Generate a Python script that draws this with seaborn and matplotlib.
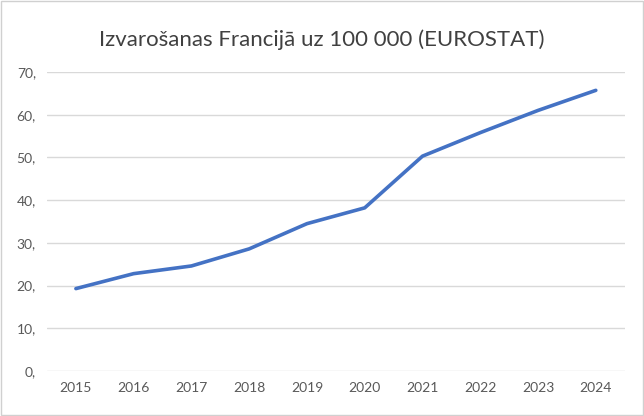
import pandas as pd
import matplotlib.pyplot as plt
import seaborn as sns

# dati
gadi = ['2015', '2016', '2017', '2018', '2019', '2020', '2021', '2022', '2023', '2024']
vertibas = [19.3, 22.8, 24.6, 28.6, 34.5, 38.2, 50.3, 55.8, 61.0, 65.7]
y_ticks = [0, 10, 20, 30, 40, 50, 60, 70]
y_labels = ['0,', '10,', '20,', '30,', '40,', '50,', '60,', '70,']

df = pd.DataFrame({'gads': gadi, 'vertiba': vertibas})

sns.set_style('white')
plt.rcParams['font.family'] = ['Lato', 'DejaVu Sans']

fig = plt.figure(figsize=(6.44, 4.16), dpi=100)
ax = fig.add_axes([0.073, 0.108, 0.897, 0.719])

sns.lineplot(data=df, x='gads', y='vertiba', ax=ax, color='#4472C4',
             linewidth=2.6, sort=False)

ax.set_xlim(-0.5, len(gadi) - 0.5)
ax.set_ylim(0, 70)
ax.set_yticks(y_ticks)
ax.set_yticklabels(y_labels)
ax.yaxis.grid(True, color='#d9d9d9', linewidth=1)
ax.set_axisbelow(True)
for s in ax.spines.values():
    s.set_visible(False)
ax.tick_params(axis='both', length=0, labelsize=10, labelcolor='#595959', pad=8)
ax.set_xlabel('')
ax.set_ylabel('')

fig.text(0.5, 0.905, 'Izvarošanas Francijā uz 100 000 (EUROSTAT)',
         ha='center', va='center', fontsize=16, color='#404040')

# rāmis ap attēlu
fig.patches.append(plt.Rectangle((0.002, 0.003), 0.996, 0.994, transform=fig.transFigure,
                                 fill=False, edgecolor='#d0d0d0', linewidth=1))

plt.savefig('out.png', dpi=100)
